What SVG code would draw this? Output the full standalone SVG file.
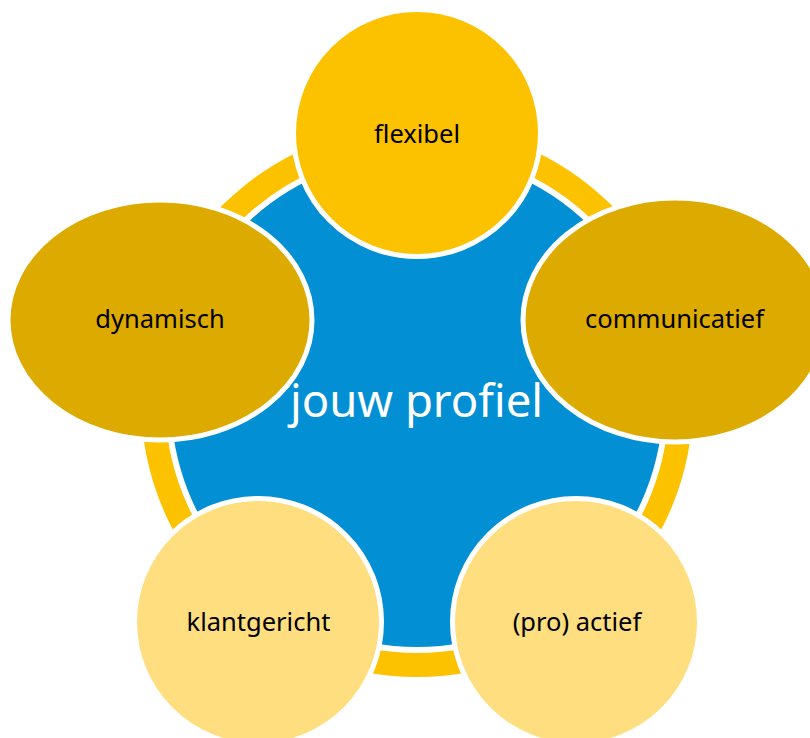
<svg xmlns="http://www.w3.org/2000/svg" width="810" height="738" viewBox="0 0 810 738">
<style>
.sat{stroke:#FFFFFF;stroke-width:5}
.lbl{font-family:"Noto Sans","Open Sans","DejaVu Sans",sans-serif;font-size:25.5px;fill:#000000;text-anchor:middle}
.main{font-family:"Noto Sans","Open Sans","DejaVu Sans",sans-serif;font-size:45.5px;fill:#FFFFFF;text-anchor:middle}
</style>
<rect width="810" height="738" fill="#FFFFFF"/>
<g id="center">
<circle cx="417" cy="401" r="276" fill="#FCC200"/>
<circle cx="417" cy="401" r="249" fill="#028FD3" stroke="#FFFFFF" stroke-width="6"/>
</g>
<g id="connectors"></g>
<g id="flexibel">
<circle class="sat" cx="417" cy="133" r="123.5" fill="#FCC200"/>
<text class="lbl" x="417" y="143">flexibel</text>
</g>
<g id="communicatief">
<ellipse class="sat" cx="675" cy="320" rx="152" ry="122" fill="#DDAA00"/>
<text class="lbl" x="674.5" y="328">communicatief</text>
</g>
<g id="proactief">
<circle class="sat" cx="576" cy="622" r="123.5" fill="#FFDE7F"/>
<text class="lbl" x="577" y="631">(pro) actief</text>
</g>
<g id="klantgericht">
<circle class="sat" cx="258" cy="622" r="123.5" fill="#FFDE7F"/>
<text class="lbl" x="258.5" y="631">klantgericht</text>
</g>
<g id="dynamisch">
<ellipse class="sat" cx="160" cy="320" rx="152" ry="120" fill="#DDAA00"/>
<text class="lbl" x="160" y="328">dynamisch</text>
</g>
<g id="title">
<text class="main" x="416.5" y="417">jouw profiel</text>
</g>
</svg>
